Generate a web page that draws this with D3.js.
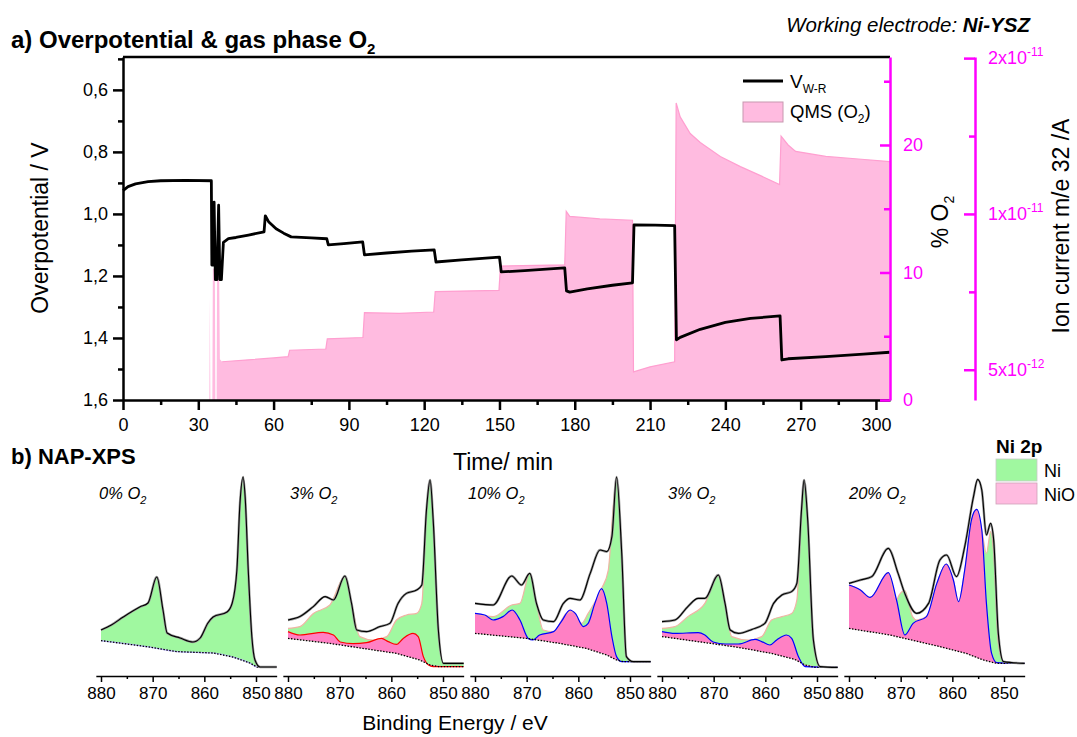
<!DOCTYPE html>
<html><head><meta charset="utf-8">
<script src="https://cdn.jsdelivr.net/npm/d3@7"></script>
<style>body{margin:0;background:#fff}svg{display:block}</style>
</head><body><svg id="c" width="1077" height="737"></svg>
<script>
// ---------------- DATA : panel a ----------------
const timeTicks=[0,30,60,90,120,150,180,210,240,270,300];
const timeMinor=[15,45,75,105,135,165,195,225,255,285];
const vTicks=[0.6,0.8,1.0,1.2,1.4,1.6];
const vMinor=[0.5,0.7,0.9,1.1,1.3,1.5];
const o2Ticks=[0,10,20];
const o2Minor=[5,15,25];
const ionTicks=[5e-12,1e-11,2e-11];
const ionMinor=[7.07e-12,1.414e-11];
const ionLabels=[["5x10","-12"],["1x10","-11"],["2x10","-11"]];

const vTime=[0,2,5,10,15,25,35.2,35.4,35.9,36.3,36.8,37.4,38.1,38.6,39.2,40.0,42,45,50,56.2,56.7,58,61,64,67,75,81.2,81.8,88,95.5,96.2,105,115,124,124.7,135,150,150.7,160,176,176.7,178,185,195,203,203.6,212,219.8,220.5,222,230,240,250,261.8,262.5,265,280,295,305.5];
const vValue=[0.925,0.912,0.903,0.896,0.893,0.892,0.893,1.165,1.165,0.962,1.212,1.212,0.972,1.212,1.212,1.092,1.080,1.076,1.068,1.058,1.006,1.025,1.048,1.062,1.074,1.077,1.080,1.100,1.096,1.090,1.132,1.126,1.120,1.116,1.155,1.148,1.139,1.187,1.183,1.174,1.248,1.252,1.242,1.230,1.222,1.035,1.036,1.038,1.406,1.398,1.372,1.350,1.337,1.329,1.471,1.467,1.460,1.452,1.446];

const qmsTime=[0,34.4,34.6,34.8,35.6,35.8,36.6,36.8,37.3,37.5,38.3,38.6,39.5,50,60,65.8,66.4,80.8,81.4,95.6,96.2,110,123.8,124.4,149.8,150.4,176.0,176.6,178,190,203.0,203.4,210,219.8,220.4,222,226,230,238,246,254,261.6,262.2,265,268,280,293,305.5];
const qmsO2=[0,0,8.1,0,0,10.3,10.3,0,0,10.0,10.0,3.2,3.0,3.15,3.3,3.4,3.9,4.0,4.8,4.9,6.85,6.8,6.9,8.5,8.6,10.5,10.6,14.8,14.4,14.2,14.1,2.2,2.6,3.0,23.3,22.2,20.9,20.2,19.1,18.3,17.6,16.9,20.7,20.0,19.5,19.1,18.9,18.7];

// ---------------- DATA : panel b (Ni 2p spectra) ----------------
const beTicks=[880,870,860,850];
const beMinor=[875,865,855];
const panelLabels=["0%","3%","10%","3%","20%"];

const dataE0=[880,878,875.7,872.5,870.9,869.2,868.0,867.2,864.7,862.2,860.8,859.3,858.3,855.6,854.6,853.7,853.1,852.5,852.1,851.5,850.8,850.2,849.2,846];
const data0=[20,22.5,26.5,31.5,33.5,46.5,30,18.5,16,14,16,23.5,26.5,29,33.5,50,83.5,96.5,86.5,50,16.5,5,1.5,1.5];
const bgE0=[880,871.2,865.3,858.3,854.5,851.2,849.8,846];
const bg0=[14.7,11.7,9.2,8.5,6.5,3.5,1.5,1.5];

const dataE1=[880,877.7,875.1,872.8,871.2,869.0,867.7,866.7,864.8,862.2,860.3,858.7,857.1,855.1,854.1,853.2,852.5,851.9,850.9,849.9,846];
const data1=[25,26.7,31.7,36.7,35,47,33.3,20,19.2,21.7,23.3,33.3,38.3,40,42.5,80,95,75,20,3.3,3.3];
const fitE1=[880,877.7,875.1,871.9,869.0,867.7,866.1,863.5,860.9,859.0,857.1,855.1,854.1,853.2,852.5,851.9,850.9,849.9,846];
const fit1=[20.8,21.7,28.3,32.5,46.7,33.3,16.7,15,16.7,25,27.5,28.3,33.3,80,95,75,20,3.3,3.3];
const nioE1=[880,877.7,873.2,871.2,869.9,867.4,864.8,861.9,860.6,859.0,857.7,855.8,854.8,853.8,852.8,851.9,846];
const nio1=[19.2,17.5,18.8,17.5,14.0,13.2,13.7,15.8,14.2,12.8,15.8,18.3,16.7,6.7,2.5,1.7,1.7];
const bgE1=[880,871.9,865.5,859.0,854.5,852.5,850.9,846];
const bg1=[15.8,13.3,10.8,8.3,5,2.5,1.7,1.7];

const dataE2=[880,876.5,872.9,871.0,869.4,868.1,866.8,864.8,862.9,861.6,859.7,857.7,855.8,854.5,853.5,852.6,851.6,850.7,849.4,846];
const data2=[33.3,32.5,47,42.5,48.3,33.3,25,24.2,33.3,35.8,35,48.3,60,59.2,66.7,96.5,58.3,6.7,4.2,4.2];
const fitE2=[880,876.5,872.9,871.3,869.4,868.1,866.8,864.8,862.3,861.0,859.4,858.1,855.5,854.2,853.2,852.6,851.6,850.7,849.4,846];
const fit2=[28.3,26.7,32.5,33.3,48.3,33.3,20,19.2,28.3,29.2,23.3,28.3,40.7,50,83.3,96.5,58.3,6.7,4.2,4.2];
const nioE2=[880,878.1,876.5,874.6,872.8,871.3,869.7,868.8,867.5,864.8,863.3,861.6,860.6,859.0,858.1,856.8,855.5,854.5,853.5,852.6,851.6,846];
const nio2=[28.3,27.5,25,26.7,30,25,15.8,15,17.5,19.2,24.2,30,28.3,21.7,23.3,33.3,40.7,33.3,16.7,6.7,4.2,4.2];
const bgE2=[880,870.0,863.6,858.5,854.5,852.6,851.3,846];
const bg2=[18.3,15.8,13.3,10.8,7.5,5,4.2,4.2];

const dataE3=[880,877.5,875.0,873.0,871.7,869.1,867.8,866.8,865.2,862.6,860.1,858.4,856.8,854.9,853.9,853.0,852.5,851.8,850.7,849.4,846];
const data3=[24.2,25,31.7,35.8,35.8,47.5,33.3,20,18.3,20.3,23.3,33.3,37.5,39.2,43.3,80,95,75,15,1.7,1.3];
const fitE3=[880,877.5,875.0,871.7,869.1,867.8,866.5,863.3,860.7,858.8,856.8,854.9,853.9,853.0,852.5,851.8,850.7,849.4,846];
const fit3=[20.8,21.7,26.7,33.3,47.5,33.3,16.7,15,16.7,25,26.7,28.3,35,80,95,75,15,1.7,1.3];
const nioE3=[880,877.5,873.0,871.7,870.1,867.8,865.2,862.0,860.7,859.1,857.8,855.9,854.9,853.6,852.3,846];
const nio3=[19.2,18.3,18.7,17.5,14.0,13.0,13.0,15.3,14.2,12.5,15,17.5,15.8,6.7,1.7,1.3];
const bgE3=[880,871.7,865.2,858.8,854.3,852.3,850.4,846];
const bg3=[16.7,13.7,11.3,8.3,5.3,2.5,1.3,1.3];

const dataE4=[880,877.8,875.6,872.4,870.5,869.2,866.9,864.6,862.4,861.1,859.2,857.6,855.9,855.1,854.3,853.4,852.6,852.0,851.1,850.1,846];
const data4=[43.3,45,46.7,60.8,48.3,38.3,28.3,33.3,55,57.5,46.7,61.7,86.7,95.3,90,67.5,73.3,65,18.3,4.2,3.3];
const fitE4=[880,877.8,875.9,872.4,870.8,870.3,869.2,867.7,866.9,865.0,863.0,861.2,859.8,858.8,857.6,856.3,855.3,854.3,853.4,852.6,852.0,851.1,850.1,846];
const fit4=[42.5,40,36.3,48.7,35,37.5,39.7,26.7,25,26.7,43.3,53,45,34.2,50,75,80.3,70,58.3,69.2,58.3,13.3,4.2,3.3];
const nioE4=[880,877.8,875.9,872.4,870.8,869.2,867.6,865.0,863.0,861.2,859.8,858.8,857.6,856.3,855.3,854.3,853.4,852.4,851.4,846];
const nio4=[42.5,40,36.3,48.7,35,17.5,23.3,26.7,43.3,53,45,34.2,50,75,80.3,70,33.3,8.3,3.7,3.3];
const bgE4=[880,872.1,862.4,857.3,854.0,851.4,846];
const bg4=[20.8,17.5,11.7,8.3,5,3.3,3.3];

// ---------------- drawing ----------------
const FONT='"Liberation Sans", Arial, Helvetica, sans-serif';
const MAG='#ff00ff', QPINK='#ffbbe0', GREEN='#a0f8a0', HOT='#ff80c4';
const svg=d3.select('#c').attr('font-family',FONT);

const x=d3.scaleLinear([0,305.6],[123,890]);
const yV=d3.scaleLinear([0.494,1.6],[57,400]);
const yO=d3.scaleLinear([0,26.9],[400,57]);
const yI=d3.scaleLog([4.37e-12,2.01e-11],[400,57]);

function styleAxis(g,color,size,width){
  g.attr('font-family',FONT).attr('font-size',size);
  g.select('.domain').attr('stroke',color).attr('stroke-width',width);
  g.selectAll('.tick line').attr('stroke',color).attr('stroke-width',width);
  g.selectAll('.tick text').attr('fill',color);
}

// QMS area
const qms=qmsTime.map((t,i)=>[t,qmsO2[i]]);
svg.append('path').attr('d',d3.area().x(d=>x(d[0])).y0(yO(0)).y1(d=>yO(d[1]))(qms))
  .attr('fill',QPINK);
svg.append('path').attr('d',d3.line().x(d=>x(d[0])).y(d=>yO(d[1]))(qms.filter(d=>d[0]>39)))
  .attr('fill','none').attr('stroke','#ff9fd0').attr('stroke-width',1.2);

// V line
const vdat=vTime.map((t,i)=>[t,vValue[i]]);
svg.append('path').attr('d',d3.line().x(d=>x(d[0])).y(d=>yV(d[1]))(vdat))
  .attr('fill','none').attr('stroke','#000').attr('stroke-width',2.8).attr('stroke-linejoin','round');

// frame top
svg.append('line').attr('x1',123).attr('x2',890).attr('y1',57).attr('y2',57).attr('stroke','#000').attr('stroke-width',2.5);

// bottom axis
const gB=svg.append('g').attr('transform','translate(0,400)')
  .call(d3.axisBottom(x).tickValues(timeTicks).tickSize(10).tickSizeOuter(0).tickPadding(8));
styleAxis(gB,'#000',18,2.5);
const gBm=svg.append('g').attr('transform','translate(0,400)')
  .call(d3.axisBottom(x).tickValues(timeMinor).tickSize(5).tickFormat(''));
styleAxis(gBm,'#000',18,2.5); gBm.select('.domain').remove();

// left axis
const gL=svg.append('g').attr('transform','translate(123,0)')
  .call(d3.axisLeft(yV).tickValues(vTicks).tickSize(10).tickSizeOuter(0).tickPadding(5)
  .tickFormat(d=>d.toFixed(1).replace('.',',')));
styleAxis(gL,'#000',18,2.5);
const gLm=svg.append('g').attr('transform','translate(123,0)')
  .call(d3.axisLeft(yV).tickValues(vMinor).tickSize(5).tickFormat(''));
styleAxis(gLm,'#000',18,2.5); gLm.select('.domain').remove();

// right %O2 axis
const gR=svg.append('g').attr('transform','translate(890,0)')
  .call(d3.axisRight(yO).tickValues(o2Ticks).tickSize(-10).tickSizeOuter(0).tickPadding(13));
styleAxis(gR,MAG,18,2.5);
const gRm=svg.append('g').attr('transform','translate(890,0)')
  .call(d3.axisRight(yO).tickValues(o2Minor).tickSize(-6).tickFormat(''));
styleAxis(gRm,MAG,18,2.5); gRm.select('.domain').remove();

// ion current axis
const gI=svg.append('g').attr('transform','translate(975,0)')
  .call(d3.axisRight(yI).tickValues(ionTicks).tickSize(-11).tickSizeOuter(0).tickFormat(''));
styleAxis(gI,MAG,18,2.5);
const gIm=svg.append('g').attr('transform','translate(975,0)')
  .call(d3.axisRight(yI).tickValues(ionMinor).tickSize(-6).tickFormat(''));
styleAxis(gIm,MAG,18,2.5); gIm.select('.domain').remove();
ionTicks.forEach((v,i)=>{
  const t=svg.append('text').attr('x',988).attr('y',yI(v)+6).attr('fill',MAG).attr('font-size',18);
  t.append('tspan').text(ionLabels[i][0]);
  t.append('tspan').attr('font-size',12).attr('dy',-8).text(ionLabels[i][1]);
});

// titles
const t1=svg.append('text').attr('x',11).attr('y',48).attr('font-size',24).attr('font-weight','bold');
t1.append('tspan').text('a) Overpotential & gas phase O');
t1.append('tspan').attr('font-size',15).attr('dy',6).text('2');
const t2=svg.append('text').attr('x',1030).attr('y',32).attr('font-size',20.5).attr('font-style','italic').attr('text-anchor','end');
t2.append('tspan').text('Working electrode: ');
t2.append('tspan').attr('font-weight','bold').text('Ni-YSZ');

svg.append('text').attr('transform','translate(48,228) rotate(-90)').attr('text-anchor','middle').attr('font-size',23).text('Overpotential / V');
svg.append('text').attr('x',503).attr('y',470).attr('text-anchor','middle').attr('font-size',23).text('Time/ min');
const tO=svg.append('text').attr('transform','translate(948,222) rotate(-90)').attr('text-anchor','middle').attr('font-size',23);
tO.append('tspan').text('% O');
tO.append('tspan').attr('font-size',14).attr('dy',6).text('2');
svg.append('text').attr('transform','translate(1069,226) rotate(-90)').attr('text-anchor','middle').attr('font-size',23).text('Ion current m/e 32 /A');

// legend a
svg.append('line').attr('x1',743).attr('x2',783).attr('y1',81).attr('y2',81).attr('stroke','#000').attr('stroke-width',3);
const lv=svg.append('text').attr('x',790).attr('y',88).attr('font-size',19);
lv.append('tspan').text('V'); lv.append('tspan').attr('font-size',12).attr('dy',5).text('W-R');
svg.append('rect').attr('x',743).attr('y',102).attr('width',40).attr('height',20).attr('fill',QPINK).attr('stroke','#c898b0').attr('stroke-width',1);
const lq=svg.append('text').attr('x',790).attr('y',118).attr('font-size',18.5);
lq.append('tspan').text('QMS (O'); lq.append('tspan').attr('font-size',12).attr('dy',5).text('2');
lq.append('tspan').attr('dy',-5).text(')');

// ---------------- panel b ----------------
svg.append('text').attr('x',11).attr('y',464).attr('font-size',22).attr('font-weight','bold').text('b) NAP-XPS');

const panels=[
 {dE:dataE0,d:data0,fE:dataE0,f:data0,nE:bgE0,n:bg0,bE:bgE0,b:bg0,nc:'#b8b0ff',off:101,lx:99},
 {dE:dataE1,d:data1,fE:fitE1,f:fit1,nE:nioE1,n:nio1,bE:bgE1,b:bg1,nc:'#ff0000',off:288,lx:290},
 {dE:dataE2,d:data2,fE:fitE2,f:fit2,nE:nioE2,n:nio2,bE:bgE2,b:bg2,nc:'#0000ff',off:475,lx:468},
 {dE:dataE3,d:data3,fE:fitE3,f:fit3,nE:nioE3,n:nio3,bE:bgE3,b:bg3,nc:'#0000ff',off:662,lx:668},
 {dE:dataE4,d:data4,fE:fitE4,f:fit4,nE:nioE4,n:nio4,bE:bgE4,b:bg4,nc:'#0000ff',off:849,lx:849}
];
const ys=d3.scaleLinear([0,100],[670,470]);
const PX=155/30;
function interp(e,E,V){
  for(let i=0;i<E.length-1;i++){ if(e<=E[i]&&e>=E[i+1]){const t=(E[i]-e)/(E[i]-E[i+1]);return V[i]+t*(V[i+1]-V[i]);} }
  return e>E[0]?V[0]:V[V.length-1];
}
panels.forEach((p,k)=>{
  const xs=d3.scaleLinear([881,846],[p.off-PX,p.off+34*PX]);
  const g=svg.append('g');
  const pts=(E,V)=>E.map((e,i)=>[e,V[i]]);
  const area=d3.area().curve(d3.curveMonotoneX).x(d=>xs(d[0])).y1(d=>ys(d[1])).y0(d=>ys(interp(d[0],p.bE,p.b)));
  const line=d3.line().curve(d3.curveMonotoneX).x(d=>xs(d[0])).y(d=>ys(d[1]));
  g.append('path').attr('d',area(pts(p.fE,p.f))).attr('fill',GREEN);
  g.append('path').attr('d',area(pts(p.nE,p.n))).attr('fill',HOT);
  g.append('path').attr('d',line(pts(p.fE,p.f))).attr('fill','none').attr('stroke','#f0b4a4').attr('stroke-width',1.2);
  g.append('path').attr('d',line(pts(p.nE,p.n))).attr('fill','none').attr('stroke',p.nc).attr('stroke-width',1.2);
  g.append('path').attr('d',d3.line().x(d=>xs(d[0])).y(d=>ys(d[1]))(pts(p.bE,p.b))).attr('fill','none')
    .attr('stroke','#000').attr('stroke-width',1.3).attr('stroke-dasharray','1.5,1.5');
  g.append('path').attr('d',line(pts(p.dE,p.d))).attr('fill','none').attr('stroke','#999').attr('stroke-width',2.4);
  g.append('path').attr('d',line(pts(p.dE,p.d))).attr('fill','none').attr('stroke','#000').attr('stroke-width',1.1);
  const ga=svg.append('g').attr('transform','translate(0,676)')
    .call(d3.axisBottom(xs).tickValues(beTicks).tickSize(6).tickSizeOuter(0).tickPadding(5).tickFormat(d3.format('d')));
  styleAxis(ga,'#000',17,1.5);
  const gm=svg.append('g').attr('transform','translate(0,676)')
    .call(d3.axisBottom(xs).tickValues(beMinor).tickSize(3).tickFormat(''));
  styleAxis(gm,'#000',17,1.5); gm.select('.domain').remove();
  const lt=svg.append('text').attr('x',p.lx).attr('y',499).attr('font-size',16.5).attr('font-style','italic');
  lt.append('tspan').text(panelLabels[k]+' O');
  lt.append('tspan').attr('font-size',11).attr('dy',5).text('2');
});
svg.append('text').attr('x',455).attr('y',730).attr('text-anchor','middle').attr('font-size',21).text('Binding Energy / eV');

// legend b
svg.append('text').attr('x',996).attr('y',453).attr('font-size',19).attr('font-weight','bold').text('Ni 2p');
svg.append('rect').attr('x',996).attr('y',459).attr('width',41).attr('height',22).attr('fill',GREEN).attr('stroke','#c8c8c8').attr('stroke-width',0.8);
svg.append('text').attr('x',1044).attr('y',477).attr('font-size',18).text('Ni');
svg.append('rect').attr('x',996).attr('y',483).attr('width',41).attr('height',21).attr('fill',QPINK).attr('stroke','#d0a0b8').attr('stroke-width',0.8);
svg.append('text').attr('x',1044).attr('y',501).attr('font-size',18).text('NiO');
</script></body></html>
